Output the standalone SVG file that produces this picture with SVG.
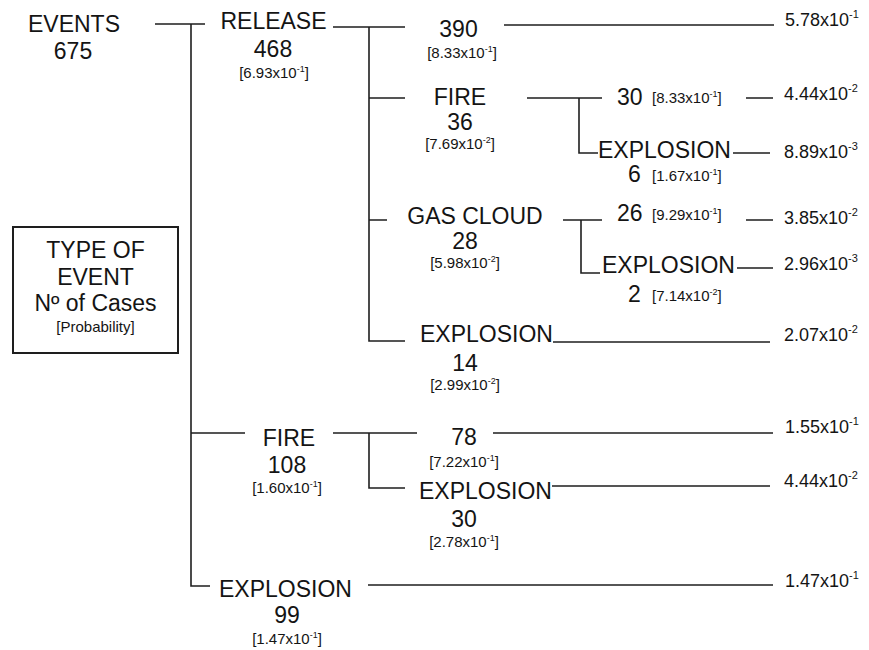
<svg xmlns="http://www.w3.org/2000/svg" width="869" height="650" viewBox="0 0 869 650">
<style>
text{font-family:"Liberation Sans",Arial,sans-serif;fill:#141414}
.m{font-size:23px}
.s{font-size:15px}
.r{font-size:18px}
.c{text-anchor:middle}
.sup{font-size:9px}
.rsup{font-size:11px}
.ln{stroke:#1e1e1e;stroke-width:1.6;fill:none}
.box{stroke:#1e1e1e;stroke-width:2;fill:#fff}
</style>
<rect width="869" height="650" fill="#fff"/>
<g id="connectors" class="ln">
<path d="M155 24H205M191 24V586H210"/>
<path d="M333 27H405M369 27V341H405M369 98H405M369 220H387"/>
<path d="M504 25H774"/>
<path d="M527 98H602M579 98V153H598M746 98H773M733 153H770"/>
<path d="M563 220H602M581 220V273H600M746 220H773M737 268H773"/>
<path d="M553 342H770"/>
<path d="M191 433H245M333 433H417M369 433V488H405M493 433H773M552 486H770"/>
<path d="M368 585H773"/>
</g>
<g id="legend">
<rect class="box" x="13" y="227" width="165" height="126"/>
<text class="m c" x="95.5" y="258">TYPE OF</text>
<text class="m c" x="95.5" y="285">EVENT</text>
<text class="m c" x="95.5" y="311">Nº of Cases</text>
<text class="s c" x="95.5" y="332">[Probability]</text>
</g>
<g id="n-events">
<text class="m c" x="74" y="32">EVENTS</text>
<text class="m c" x="73" y="59">675</text>
</g>
<g id="n-release">
<text class="m c" x="273.5" y="29">RELEASE</text>
<text class="m c" x="273" y="57">468</text>
<text class="s c" x="274" y="78">[6.93x10<tspan class="sup" dy="-6">-1</tspan><tspan dy="6">]</tspan></text>
</g>
<g id="n-release-none">
<text class="m c" x="458.5" y="37">390</text>
<text class="s c" x="462" y="58">[8.33x10<tspan class="sup" dy="-6">-1</tspan><tspan dy="6">]</tspan></text>
</g>
<g id="n-release-fire">
<text class="m c" x="460" y="105">FIRE</text>
<text class="m c" x="460" y="130">36</text>
<text class="s c" x="460" y="149">[7.69x10<tspan class="sup" dy="-6">-2</tspan><tspan dy="6">]</tspan></text>
</g>
<g id="n-release-fire-none">
<text class="m" x="617" y="105">30</text>
<text class="s" x="652" y="103">[8.33x10<tspan class="sup" dy="-6">-1</tspan><tspan dy="6">]</tspan></text>
</g>
<g id="n-release-fire-explosion">
<text class="m" x="598" y="158">EXPLOSION</text>
<text class="m" x="628" y="182">6</text>
<text class="s" x="652" y="181">[1.67x10<tspan class="sup" dy="-6">-1</tspan><tspan dy="6">]</tspan></text>
</g>
<g id="n-release-gas">
<text class="m c" x="475" y="224">GAS CLOUD</text>
<text class="m c" x="465" y="249">28</text>
<text class="s c" x="465" y="268">[5.98x10<tspan class="sup" dy="-6">-2</tspan><tspan dy="6">]</tspan></text>
</g>
<g id="n-release-gas-none">
<text class="m" x="617" y="221">26</text>
<text class="s" x="652" y="220">[9.29x10<tspan class="sup" dy="-6">-1</tspan><tspan dy="6">]</tspan></text>
</g>
<g id="n-release-gas-explosion">
<text class="m" x="602" y="273">EXPLOSION</text>
<text class="m" x="628" y="302">2</text>
<text class="s" x="652" y="301">[7.14x10<tspan class="sup" dy="-6">-2</tspan><tspan dy="6">]</tspan></text>
</g>
<g id="n-release-explosion">
<text class="m c" x="486.5" y="342">EXPLOSION</text>
<text class="m c" x="465" y="371">14</text>
<text class="s c" x="465" y="390">[2.99x10<tspan class="sup" dy="-6">-2</tspan><tspan dy="6">]</tspan></text>
</g>
<g id="n-fire">
<text class="m c" x="289" y="446">FIRE</text>
<text class="m c" x="287" y="473">108</text>
<text class="s c" x="287" y="493">[1.60x10<tspan class="sup" dy="-6">-1</tspan><tspan dy="6">]</tspan></text>
</g>
<g id="n-fire-none">
<text class="m c" x="464" y="445">78</text>
<text class="s c" x="464" y="467">[7.22x10<tspan class="sup" dy="-6">-1</tspan><tspan dy="6">]</tspan></text>
</g>
<g id="n-fire-explosion">
<text class="m c" x="485.5" y="499">EXPLOSION</text>
<text class="m c" x="464" y="527">30</text>
<text class="s c" x="464" y="547">[2.78x10<tspan class="sup" dy="-6">-1</tspan><tspan dy="6">]</tspan></text>
</g>
<g id="n-explosion">
<text class="m c" x="285.5" y="597">EXPLOSION</text>
<text class="m c" x="287" y="623">99</text>
<text class="s c" x="287" y="644">[1.47x10<tspan class="sup" dy="-6">-1</tspan><tspan dy="6">]</tspan></text>
</g>
<g id="results">
<g id="p1"><text class="r" x="785" y="26">5.78x10<tspan class="rsup" dy="-8">-1</tspan></text></g>
<g id="p2"><text class="r" x="784" y="100">4.44x10<tspan class="rsup" dy="-8">-2</tspan></text></g>
<g id="p3"><text class="r" x="784" y="158">8.89x10<tspan class="rsup" dy="-8">-3</tspan></text></g>
<g id="p4"><text class="r" x="784" y="224">3.85x10<tspan class="rsup" dy="-8">-2</tspan></text></g>
<g id="p5"><text class="r" x="784" y="270">2.96x10<tspan class="rsup" dy="-8">-3</tspan></text></g>
<g id="p6"><text class="r" x="784" y="341">2.07x10<tspan class="rsup" dy="-8">-2</tspan></text></g>
<g id="p7"><text class="r" x="785" y="433">1.55x10<tspan class="rsup" dy="-8">-1</tspan></text></g>
<g id="p8"><text class="r" x="784" y="487">4.44x10<tspan class="rsup" dy="-8">-2</tspan></text></g>
<g id="p9"><text class="r" x="785" y="587">1.47x10<tspan class="rsup" dy="-8">-1</tspan></text></g>
</g>
</svg>
